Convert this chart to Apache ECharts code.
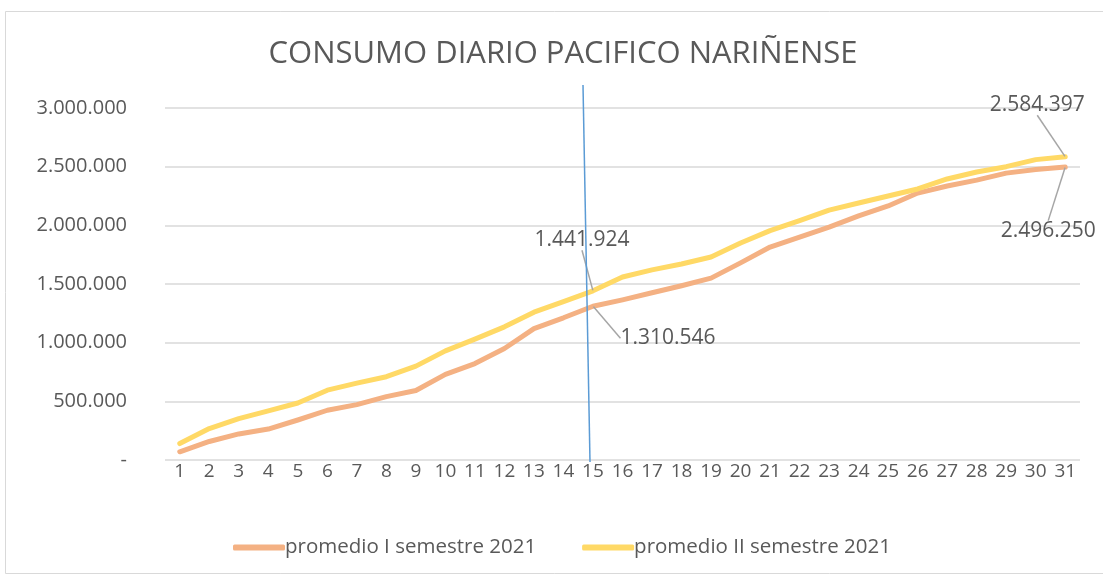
<!DOCTYPE html>
<html>
<head>
<meta charset="utf-8">
<script src="https://cdn.jsdelivr.net/npm/echarts@6/dist/echarts.min.js"></script>
<style>
  html, body { margin: 0; padding: 0; background: #fff; }
  #chart { width: 1103px; height: 575px; }
</style>
</head>
<body>
<div id="chart"></div>
<script>
const days = Array.from({ length: 31 }, (_, i) => String(i + 1));

const semestre1 = [
  70000, 158000, 222000, 264000, 341000, 424000, 472000, 540000, 592000, 730000,
  822000, 950000, 1120000, 1212000, 1310546, 1365000, 1425000, 1485000, 1550000, 1680000,
  1815000, 1900000, 1985000, 2080000, 2165000, 2275000, 2335000, 2385000, 2445000, 2475000,
  2496250,
];

const semestre2 = [
  140000, 268000, 352000, 418000, 486000, 595000, 655000, 710000, 800000, 930000,
  1030000, 1135000, 1260000, 1350000, 1441924, 1560000, 1620000, 1670000, 1730000, 1850000,
  1955000, 2040000, 2130000, 2190000, 2250000, 2310000, 2395000, 2455000, 2500000, 2560000,
  2584397,
];

const seriesNames = ['promedio I semestre 2021', 'promedio II semestre 2021'];
const labelledIdx = [14, 30];

const FONT = '"Open Sans", sans-serif';
const TXT = '#595959';

function fmtNum(v) {
  if (v === 0) return '-';
  return Math.round(v).toString().replace(/\B(?=(\d{3})+(?!\d))/g, '.');
}

function withLabels(values, pos) {
  return values.map((v, i) => labelledIdx.includes(i)
    ? { value: v, label: { show: true, position: pos } }
    : v);
}

// label offsets (dx, dy) per series / data point
const offsets = {
  '0-14': [75, 16], '0-30': [-17, 48],
  '1-14': [-11, -35], '1-30': [-28, -36],
};

const chart = echarts.init(document.getElementById('chart'), null, { renderer: 'canvas' });

const labelBase = {
  show: false,
  color: TXT,
  fontFamily: FONT,
  fontSize: 21,
  formatter: (p) => fmtNum(p.value),
};

chart.setOption({
  animation: false,
  backgroundColor: '#fff',
  textStyle: { fontFamily: FONT },
  title: {
    text: 'CONSUMO DIARIO PACIFICO NARIÑENSE',
    left: 558,
    top: 34,
    textAlign: 'center',
    textStyle: { color: TXT, fontFamily: FONT, fontSize: 31, fontWeight: 'normal' },
  },
  graphic: [{
    type: 'rect',
    shape: { x: 5.5, y: 11.5, width: 1120, height: 562 },
    style: { fill: 'none', stroke: '#d9d9d9', lineWidth: 1 },
    silent: true,
  }],
  legend: {
    left: 228,
    top: 532,
    itemWidth: 52,
    itemHeight: 6,
    itemGap: 46,
    icon: 'roundRect',
    data: seriesNames,
    textStyle: { color: TXT, fontFamily: FONT, fontSize: 20.5, padding: [0, 0, 0, -5] },
  },
  grid: { left: 165, right: 23, top: 108, bottom: 115, containLabel: false },
  xAxis: {
    type: 'category',
    data: days,
    boundaryGap: true,
    axisLine: { show: false },
    axisTick: { show: false },
    axisLabel: { color: TXT, fontFamily: FONT, fontSize: 19, margin: 2, interval: 0 },
  },
  yAxis: {
    type: 'value',
    min: 0,
    max: 3000000,
    interval: 500000,
    axisLine: { show: false },
    axisTick: { show: false },
    splitLine: { lineStyle: { color: '#d9d9d9', width: 1.5 } },
    axisLabel: { color: TXT, fontFamily: FONT, fontSize: 20, margin: 38, formatter: fmtNum },
  },
  series: [
    {
      name: seriesNames[0],
      type: 'line',
      data: withLabels(semestre1, 'bottom'),
      symbol: 'circle',
      symbolSize: 1,
      itemStyle: { color: '#f4b183' },
      lineStyle: { color: '#f4b183', width: 5, cap: 'round', join: 'round' },
      label: labelBase,
      labelLine: { show: true, lineStyle: { color: '#a6a6a6', width: 1.5 } },
      labelLayout: (p) => {
        const o = offsets['0-' + p.dataIndex];
        return o ? { dx: o[0], dy: o[1] } : {};
      },
      markLine: {
        silent: true,
        symbol: 'none',
        label: { show: false },
        lineStyle: { color: '#5b9bd5', width: 1.5, type: 'solid' },
        data: [[{ x: 583, y: 85 }, { x: 590, y: 462 }]],
      },
      z: 2,
    },
    {
      name: seriesNames[1],
      type: 'line',
      data: withLabels(semestre2, 'top'),
      symbol: 'circle',
      symbolSize: 1,
      itemStyle: { color: '#ffd966' },
      lineStyle: { color: '#ffd966', width: 5, cap: 'round', join: 'round' },
      label: labelBase,
      labelLine: { show: true, lineStyle: { color: '#a6a6a6', width: 1.5 } },
      labelLayout: (p) => {
        const o = offsets['1-' + p.dataIndex];
        return o ? { dx: o[0], dy: o[1] } : {};
      },
      z: 3,
    },
  ],
});
</script>
</body>
</html>
